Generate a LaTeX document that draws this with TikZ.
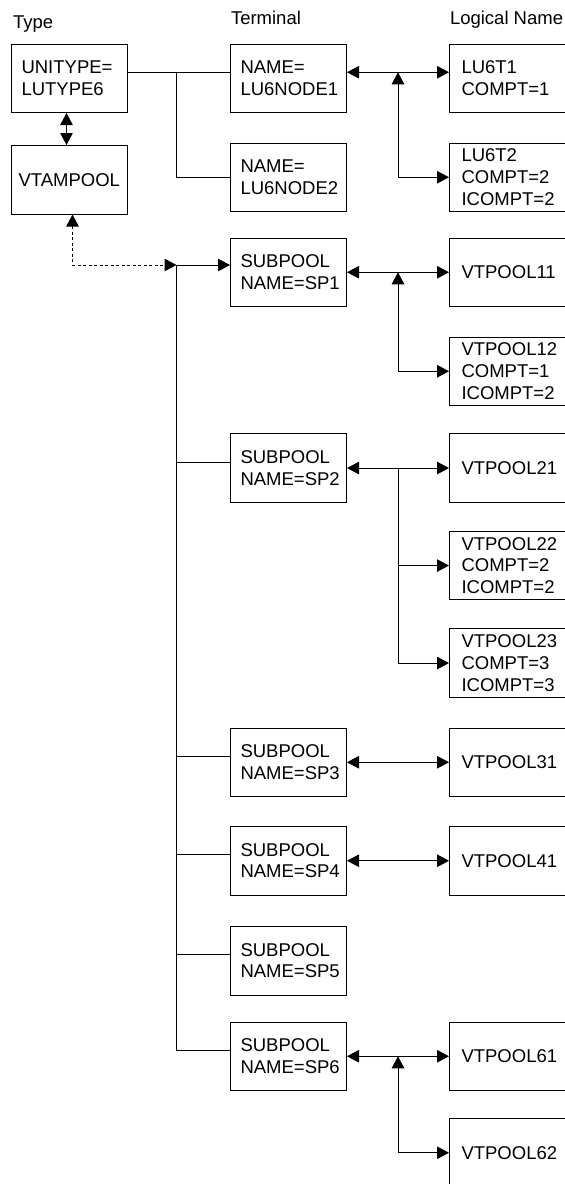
\documentclass[tikz,border=0pt]{standalone}
\usepackage{fontspec}
\setmainfont{Liberation Sans}
\usetikzlibrary{arrows.meta,positioning,calc}

\begin{document}
\begin{tikzpicture}[
  x=1pt, y=-1pt, line width=1pt,
  font=\fontsize{18.5}{21.7}\selectfont,
  box/.style={draw, anchor=north west, align=left, text width=96pt, inner xsep=10pt, inner ysep=2pt, minimum height=68.5pt},
  lname/.style={box, text width=108pt, inner xsep=12pt},
  head/.style={anchor=base west, inner sep=0pt},
  arr/.style={-{Triangle[length=12pt, width=12.5pt]}},
  dbl/.style={{Triangle[length=12pt, width=12.5pt]}-{Triangle[length=12pt, width=12.5pt]}}
]
  \useasboundingbox (0,0) rectangle (565,1184);

  \node[head] (hty) at (12.5,28.3) {Type};
  \node[head] (hte) at (230.5,24) {Terminal};
  \node[head] (hln) at (449.5,24.5) {Logical Name};

  \node[box] (ut) at (11,43.5) {UNITYPE=\\LUTYPE6};
  \node[box, below=32pt of ut, inner xsep=7pt, text width=102pt] (vp) {VTAMPOOL};
  \node[box] (n1) at (230,43.5) {NAME=\\LU6NODE1};
  \node[box, below=29.5pt of n1] (n2) {NAME=\\LU6NODE2};
  \node[lname] (t1) at (449,43.5) {LU6T1\\COMPT=1};
  \node[lname, below=29.5pt of t1] (t2) {LU6T2\\COMPT=2\\ICOMPT=2};

  \node[box] (s1) at (230,237.5) {SUBPOOL\\NAME=SP1};
  \node[lname] (p11) at (449,237.5) {VTPOOL11};
  \node[lname, below=29.5pt of p11] (p12) {VTPOOL12\\COMPT=1\\ICOMPT=2};
  \node[box] (s2) at (230,433.3) {SUBPOOL\\NAME=SP2};
  \node[lname] (p21) at (449,433.3) {VTPOOL21};
  \node[lname, below=28pt of p21] (p22) {VTPOOL22\\COMPT=2\\ICOMPT=2};
  \node[lname, below=28pt of p22] (p23) {VTPOOL23\\COMPT=3\\ICOMPT=3};
  \node[box] (s3) at (230,727.5) {SUBPOOL\\NAME=SP3};
  \node[lname] (p31) at (449,727.5) {VTPOOL31};
  \node[box] (s4) at (230,826) {SUBPOOL\\NAME=SP4};
  \node[lname] (p41) at (449,826) {VTPOOL41};
  \node[box] (s5) at (230,926) {SUBPOOL\\NAME=SP5};
  \node[box] (s6) at (230,1021.5) {SUBPOOL\\NAME=SP6};
  \node[lname] (p61) at (449,1021.5) {VTPOOL61};
  \node[lname, below=27pt of p61] (p62) {VTPOOL62};

  \coordinate (tj) at (176.5,71.5);
  \coordinate (jb) at (176.5,265);
  \draw ([yshift=6pt]ut.east) -- ([yshift=6pt]n1.west);
  \draw (n2.west) -| (tj);
  \draw[dbl] ([xshift=-3pt]ut.south) -- ([xshift=-3pt]vp.north);
  \draw[dbl, dash pattern=on 3pt off 2.5pt] ([xshift=3pt]vp.south) |- (jb);
  \draw[arr] (jb) -- (jb -| s1.west);
  \foreach \i in {2,...,6} \draw ([yshift=6pt]s\i.west) -| (jb);

  \coordinate (n1r) at ([yshift=6pt]n1.east);
  \coordinate (t1l) at ([yshift=6pt]t1.west);
  \draw[dbl] (n1r) -- (t1l);
  \draw[dbl] ($(n1r)!.5!(t1l)$) |- (t2.west);
  \draw[dbl] (s1.east) -- (p11.west);
  \draw[dbl] ($(s1.east)!.5!(p11.west)$) |- (p12.west);
  \draw[dbl] (s2.east) -- (p21.west);
  \foreach \p in {p22,p23} \draw[arr] ($(s2.east)!.5!(p21.west)$) |- (\p.west);
  \draw[dbl] (s3.east) -- (p31.west);
  \draw[dbl] (s4.east) -- (p41.west);
  \draw[dbl] (s6.east) -- (p61.west);
  \draw[dbl] ($(s6.east)!.5!(p61.west)$) |- (p62.west);
\end{tikzpicture}
\end{document}
